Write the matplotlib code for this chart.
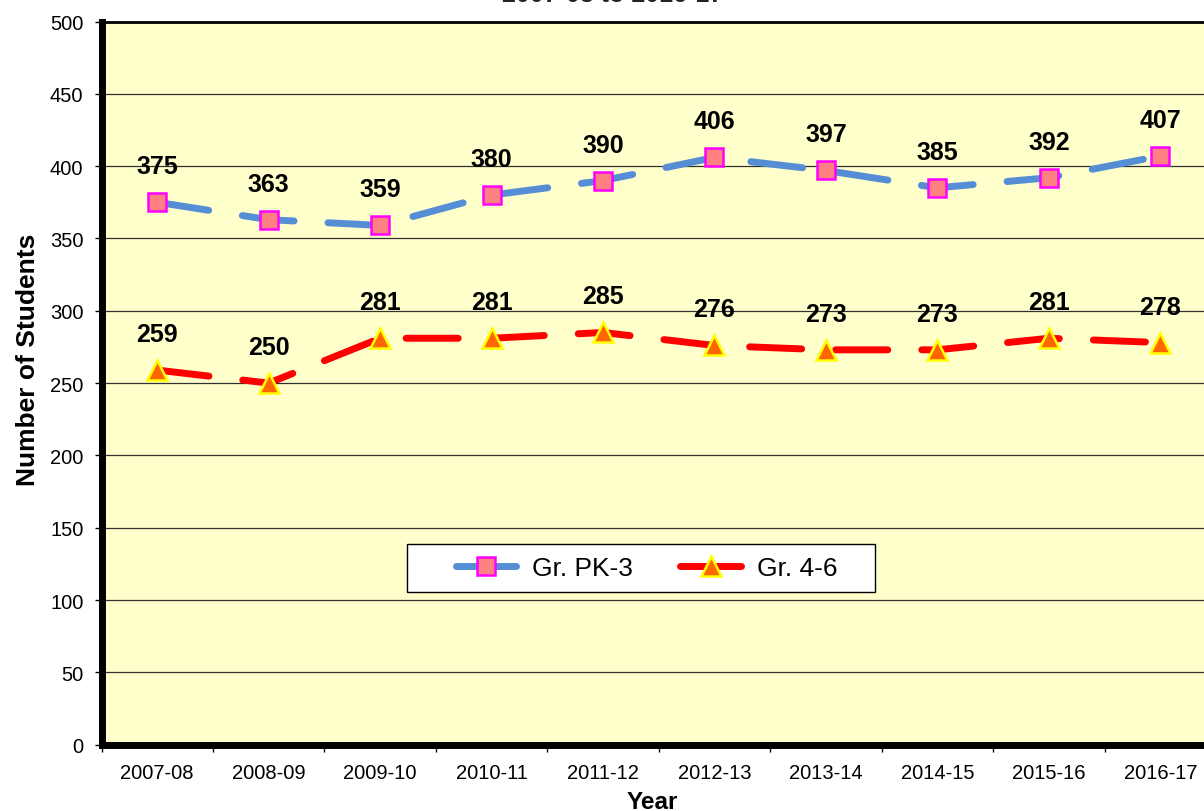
import matplotlib
matplotlib.use('Agg')
import matplotlib.pyplot as plt
from matplotlib.lines import Line2D
from matplotlib.patches import Rectangle

plt.rcParams['font.family'] = ['Liberation Sans', 'DejaVu Sans']

years = ['2007-08', '2008-09', '2009-10', '2010-11', '2011-12',
         '2012-13', '2013-14', '2014-15', '2015-16', '2016-17']
pk3 = [375, 363, 359, 380, 390, 406, 397, 385, 392, 407]
gr46 = [259, 250, 281, 281, 285, 276, 273, 273, 281, 278]

fig = plt.figure(figsize=(12.04, 8.12), dpi=100)
ax = fig.add_axes([101.5 / 1204, 1 - 745.7 / 812, (1216 - 101.5) / 1204, 723.2 / 812])
ax.set_facecolor('#FFFFCC')

x = list(range(len(years)))

# lineas discontinuas
ax.plot(x, pk3, color='#558ED5', lw=5, dashes=(7.5, 4.9), dash_capstyle='round',
        marker='s', ms=13.5, mfc='#FF8080', mec='#FF00FF', mew=1.8, zorder=3)
ax.plot(x, gr46, color='#FF0000', lw=5, dashes=(7.5, 4.9), dash_capstyle='round',
        marker='^', ms=14, mfc='#FF6600', mec='#FFFF00', mew=1.8, zorder=3)

for xi, v in zip(x, pk3):
    ax.annotate(str(v), (xi, v), xytext=(0, 36), textcoords='offset pixels',
                ha='center', va='center', fontsize=18, fontweight='bold')
for xi, v in zip(x, gr46):
    ax.annotate(str(v), (xi, v), xytext=(0, 36), textcoords='offset pixels',
                ha='center', va='center', fontsize=18, fontweight='bold')

ax.set_ylim(0, 500)
ax.set_xlim(-0.5, 9.5)
ax.set_yticks(range(0, 501, 50))
ax.yaxis.grid(True, color='#303030', lw=0.9)
ax.set_axisbelow(True)
ax.tick_params(axis='y', labelsize=14.5, length=5, width=1, pad=8)

ax.set_xticks(x)
ax.set_xticklabels(years, fontsize=14.5)
ax.set_xticks([i - 0.5 for i in range(11)], minor=True)
ax.tick_params(axis='x', which='major', length=0, pad=13)
ax.tick_params(axis='x', which='minor', length=5, width=1)

ax.spines['left'].set_linewidth(5)
ax.spines['bottom'].set_linewidth(5)
ax.spines['top'].set_linewidth(2)
ax.spines['right'].set_linewidth(5)

ax.set_ylabel('Number of Students', fontsize=19, fontweight='bold')
ax.yaxis.set_label_coords(-0.0551, 0.533)
ax.set_xlabel('Year', fontsize=17.5, fontweight='bold')
ax.xaxis.set_label_coords(0.494, -0.062)

fig.text(613 / 1204, 1 - 1.5 / 812, '2007-08 to 2016-17', ha='center', va='baseline',
         fontsize=18, fontweight='bold', color='#222222')

# caja de la leyenda
ax.add_patch(Rectangle(((407 - 101.5) / 1114.5, (745.7 - 593) / 723.2), 468 / 1114.5, 48 / 723.2,
                       transform=ax.transAxes, facecolor='white', edgecolor='black', lw=1,
                       zorder=4, clip_on=False))

handles = [
    Line2D([], [], color='#558ED5', lw=5, solid_capstyle='round', marker='s', ms=13.5,
           mfc='#FF8080', mec='#FF00FF', mew=1.8),
    Line2D([], [], color='#FF0000', lw=5, solid_capstyle='round', marker='^', ms=14,
           mfc='#FF6600', mec='#FFFF00', mew=1.8),
]
leg = ax.legend(handles, ['Gr. PK-3', 'Gr. 4-6'], loc='center', bbox_to_anchor=(0.489, 0.2443),
                ncol=2, fontsize=19, frameon=False, handlelength=2.3, handletextpad=0.6,
                columnspacing=1.8, borderpad=0.45, borderaxespad=0)
leg.set_zorder(5)

fig.savefig('out.png', dpi=100)
